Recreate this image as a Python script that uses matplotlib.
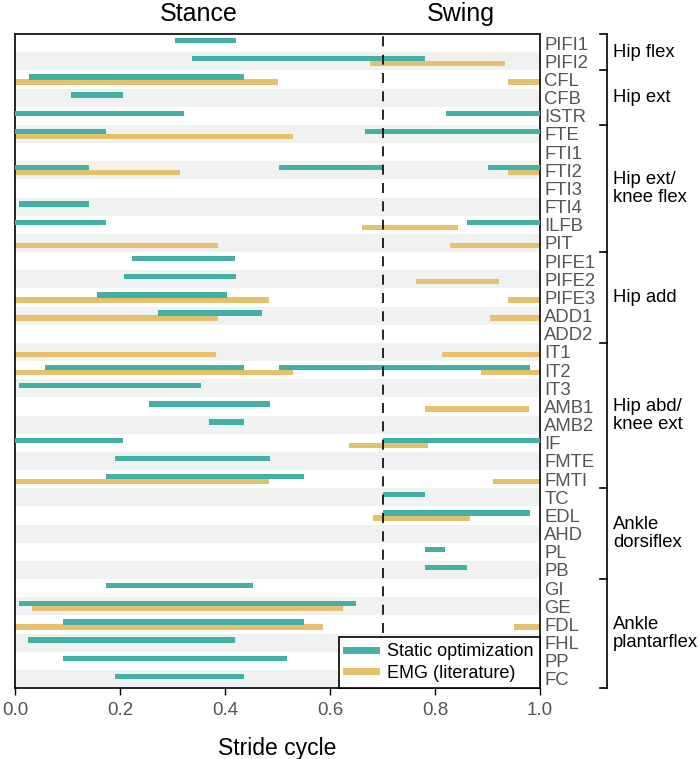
import matplotlib
matplotlib.use("Agg")
import matplotlib.pyplot as plt
from matplotlib.lines import Line2D

plt.rcParams['font.family'] = ['Liberation Sans', 'DejaVu Sans']

muscles = ["PIFI1", "PIFI2", "CFL", "CFB", "ISTR", "FTE", "FTI1", "FTI2", "FTI3",
           "FTI4", "ILFB", "PIT", "PIFE1", "PIFE2", "PIFE3", "ADD1", "ADD2", "IT1",
           "IT2", "IT3", "AMB1", "AMB2", "IF", "FMTE", "FMTI", "TC", "EDL", "AHD",
           "PL", "PB", "GI", "GE", "FDL", "FHL", "PP", "FC"]

# Static optimization activity intervals (stride fraction)
static_opt = [
    [(0.305, 0.42)],                                   # PIFI1
    [(0.338, 0.78)],                                   # PIFI2
    [(0.026, 0.437)],                                  # CFL
    [(0.107, 0.206)],                                  # CFB
    [(0.0, 0.321), (0.82, 1.0)],                       # ISTR
    [(0.0, 0.173), (0.667, 1.0)],                      # FTE
    [],                                                # FTI1
    [(0.0, 0.14), (0.502, 0.70), (0.901, 1.0)],        # FTI2
    [],                                                # FTI3
    [(0.008, 0.14)],                                   # FTI4
    [(0.0, 0.173), (0.86, 1.0)],                       # ILFB
    [],                                                # PIT
    [(0.223, 0.42)],                                   # PIFE1
    [(0.207, 0.42)],                                   # PIFE2
    [(0.157, 0.403)],                                  # PIFE3
    [(0.272, 0.47)],                                   # ADD1
    [],                                                # ADD2
    [],                                                # IT1
    [(0.058, 0.437), (0.502, 0.98)],                   # IT2
    [(0.008, 0.354)],                                  # IT3
    [(0.256, 0.486)],                                  # AMB1
    [(0.37, 0.437)],                                   # AMB2
    [(0.0, 0.206), (0.70, 1.0)],                       # IF
    [(0.19, 0.486)],                                   # FMTE
    [(0.173, 0.551)],                                  # FMTI
    [(0.70, 0.78)],                                    # TC
    [(0.70, 0.98)],                                    # EDL
    [],                                                # AHD
    [(0.78, 0.82)],                                    # PL
    [(0.78, 0.86)],                                    # PB
    [(0.173, 0.453)],                                  # GI
    [(0.008, 0.65)],                                   # GE
    [(0.091, 0.551)],                                  # FDL
    [(0.025, 0.42)],                                   # FHL
    [(0.091, 0.518)],                                  # PP
    [(0.19, 0.437)],                                   # FC
]

# EMG (literature) activity intervals
emg = [
    [],                                                # PIFI1
    [(0.676, 0.933)],                                  # PIFI2
    [(0.0, 0.501), (0.939, 1.0)],                      # CFL
    [],                                                # CFB
    [],                                                # ISTR
    [(0.0, 0.529)],                                    # FTE
    [],                                                # FTI1
    [(0.0, 0.314), (0.939, 1.0)],                      # FTI2
    [],                                                # FTI3
    [],                                                # FTI4
    [(0.661, 0.843)],                                  # ILFB
    [(0.0, 0.387), (0.829, 1.0)],                      # PIT
    [],                                                # PIFE1
    [(0.763, 0.921)],                                  # PIFE2
    [(0.0, 0.483), (0.939, 1.0)],                      # PIFE3
    [(0.0, 0.387), (0.905, 1.0)],                      # ADD1
    [],                                                # ADD2
    [(0.0, 0.382), (0.814, 1.0)],                      # IT1
    [(0.0, 0.529), (0.887, 1.0)],                      # IT2
    [],                                                # IT3
    [(0.781, 0.979)],                                  # AMB1
    [],                                                # AMB2
    [(0.636, 0.787)],                                  # IF
    [],                                                # FMTE
    [(0.0, 0.483), (0.91, 1.0)],                       # FMTI
    [],                                                # TC
    [(0.682, 0.866)],                                  # EDL
    [],                                                # AHD
    [],                                                # PL
    [],                                                # PB
    [],                                                # GI
    [(0.033, 0.625)],                                  # GE
    [(0.0, 0.587), (0.95, 1.0)],                       # FDL
    [],                                                # FHL
    [],                                                # PP
    [],                                                # FC
]

groups = ["Hip flex", "Hip ext", "Hip ext/\nknee flex", "Hip add",
          "Hip abd/\nknee ext", "Ankle\ndorsiflex", "Ankle\nplantarflex"]
group_sizes = [2, 3, 7, 5, 8, 5, 6]

phase_labels = ["Stance", "Swing"]
toe_off = 0.7
xticks = [0.0, 0.2, 0.4, 0.6, 0.8, 1.0]

teal = "#42b0a4"
gold = "#e6c06a"
band = "#f0f2f1"
label_gray = "#555555"

fig = plt.figure(figsize=(7.0, 7.59), dpi=100)
ax = fig.add_axes([15/700, 1 - 688/759, 525/700, (688-34)/759])

n = len(muscles)
for i in range(n):
    if i % 2 == 1:
        ax.axhspan(i - 0.5, i + 0.5, color=band, lw=0, zorder=0)

bar_h = 0.29
off = 0.14
for i in range(n):
    for (s, e) in static_opt[i]:
        ax.barh(i - off, e - s, left=s, height=bar_h, color=teal, lw=0, zorder=3)
    for (s, e) in emg[i]:
        ax.barh(i + off, e - s, left=s, height=bar_h, color=gold, lw=0, zorder=2)

ax.axvline(toe_off, color="black", lw=1.2, ls=(0, (6, 5)), zorder=4)

ax.set_xlim(0, 1)
ax.set_ylim(n - 0.5, -0.5)
ax.set_xticks(xticks)
ax.set_xticklabels([f"{t:.1f}" for t in xticks])
ax.tick_params(axis='x', direction='out', length=5, width=1, colors='black',
               labelcolor=label_gray, labelsize=13.5, pad=5)
ax.set_yticks(range(n))
ax.set_yticklabels(muscles)
ax.yaxis.tick_right()
ax.tick_params(axis='y', length=0, labelsize=13.3, labelcolor=label_gray, pad=3)
for sp in ax.spines.values():
    sp.set_linewidth(1.2)
ax.set_xlabel("Stride cycle", fontsize=16.5, labelpad=13)

# phase labels
ax.text(toe_off / 2, 1.012, phase_labels[0], transform=ax.get_xaxis_transform(),
        ha='center', va='bottom', fontsize=18)
ax.text((1 + toe_off) / 2, 1.012, phase_labels[1], transform=ax.get_xaxis_transform(),
        ha='center', va='bottom', fontsize=18)

# group brackets
bounds = [-0.5]
for g in group_sizes:
    bounds.append(bounds[-1] + g)
x_br = 1 + 67/525
trans = ax.get_yaxis_transform()
ax.plot([x_br, x_br], [bounds[0], bounds[-1]], color='black', lw=1.2,
        transform=trans, clip_on=False)
for b in bounds:
    ax.plot([x_br - 7/525, x_br], [b, b], color='black', lw=1.2,
            transform=trans, clip_on=False)
for gi, gname in enumerate(groups):
    c = (bounds[gi] + bounds[gi + 1]) / 2
    ax.text(x_br + 6/525, c, gname, transform=trans, ha='left', va='center',
            fontsize=13.3, linespacing=1.1)

# legend
handles = [Line2D([], [], color=teal, lw=5), Line2D([], [], color=gold, lw=5)]
leg = ax.legend(handles, ["Static optimization", "EMG (literature)"],
                loc='lower right', fontsize=13, frameon=True, fancybox=False,
                framealpha=1, edgecolor='black', borderaxespad=0,
                handlelength=1.7, handletextpad=0.6, borderpad=0.35,
                labelspacing=0.25)
leg.get_frame().set_linewidth(1.2)
leg.set_zorder(10)

fig.savefig("out.png", dpi=100)
